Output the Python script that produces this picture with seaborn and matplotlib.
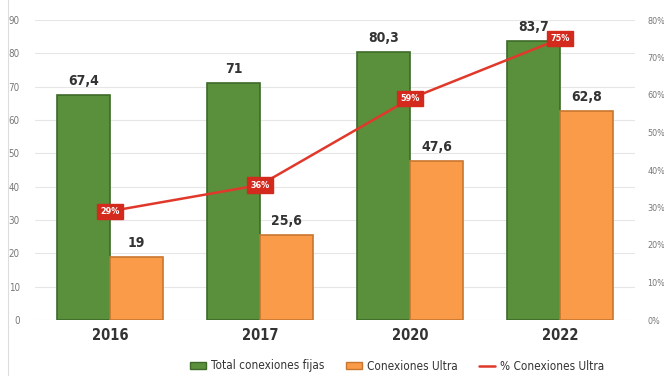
import matplotlib
matplotlib.use("Agg")
import matplotlib.pyplot as plt
import seaborn as sns
import pandas as pd
from matplotlib.patches import Patch
from matplotlib.lines import Line2D

years = ["2016", "2017", "2020", "2022"]
total_fijas = [67.4, 71, 80.3, 83.7]
conex_ultra = [19, 25.6, 47.6, 62.8]
pct_ultra = [29, 36, 59, 75]
total_labels = ["67,4", "71", "80,3", "83,7"]
ultra_labels = ["19", "25,6", "47,6", "62,8"]
series_names = ["Total conexiones fijas", "Conexiones Ultra", "% Conexiones Ultra"]

sns.set_theme(style="white")
plt.rcParams['font.family'] = ['DejaVu Sans']
plt.rcParams['font.stretch'] = 'condensed'

green = "#5a8f3c"
green_edge = "#3d6a28"
orange = "#f99b48"
orange_edge = "#c9762f"
red = "#e0392b"

df = pd.DataFrame({
    "year": years * 2,
    "value": total_fijas + conex_ultra,
    "serie": [series_names[0]] * 4 + [series_names[1]] * 4,
})

fig = plt.figure(figsize=(6.64, 3.76), dpi=100)
ax = fig.add_axes([35/664, 1-320/376, 600/664, 300/376])

sns.barplot(data=df, x="year", y="value", hue="serie",
            palette=[green, orange], width=0.71, ax=ax, legend=False,
            saturation=1)
for i, cont in enumerate(ax.containers):
    ec = green_edge if i == 0 else orange_edge
    for p in cont:
        p.set_edgecolor(ec)
        p.set_linewidth(1.2)
    labels = total_labels if i == 0 else ultra_labels
    ax.bar_label(cont, labels=labels, padding=5, fontsize=10, fontweight="bold",
                 color="#333333", fontstretch="condensed")

ax.set_ylim(0, 90)
ax.set_xlim(-0.5, 3.5)
ax.set_yticks(range(0, 91, 10))
ax.tick_params(axis="y", labelsize=7, colors="#777777", length=0, pad=11)
ax.tick_params(axis="x", labelsize=10.5, colors="#333333", length=0, pad=6)
for t in ax.get_xticklabels():
    t.set_fontweight("bold")
ax.set_xlabel("")
ax.set_ylabel("")
ax.yaxis.grid(True, color="#e6e6e6", linewidth=0.8)
ax.set_axisbelow(True)
for s in ax.spines.values():
    s.set_visible(False)

ax2 = ax.twinx()
sns.lineplot(x=list(range(len(years))), y=pct_ultra, ax=ax2, color=red, linewidth=1.8)
ax2.set_ylim(0, 80)
ax2.set_yticks(range(0, 81, 10))
ax2.set_yticklabels([f"{v}%" for v in range(0, 81, 10)])
ax2.tick_params(axis="y", labelsize=6.5, colors="#777777", length=0, pad=9)
for s in ax2.spines.values():
    s.set_visible(False)
for i, v in enumerate(pct_ultra):
    ax2.text(i, v, f"{v}%", ha="center", va="center", fontsize=6.5, fontweight="bold",
             color="white", bbox=dict(boxstyle="square,pad=0.35", fc="#d42a1e", ec="#d42a1e"))

handles = [Patch(facecolor=green, edgecolor=green_edge, label=series_names[0]),
           Patch(facecolor=orange, edgecolor=orange_edge, label=series_names[1]),
           Line2D([0], [0], color=red, linewidth=1.8, label=series_names[2])]
fig.legend(handles=handles, loc="center", bbox_to_anchor=(397/664, 1-366/376), ncol=3,
           frameon=False, fontsize=8.5, handlelength=1.4, handleheight=0.6,
           columnspacing=1.8, handletextpad=0.4, labelcolor="#333333")

fig.add_artist(Line2D([8/664, 8/664], [0, 1], color="#dddddd", linewidth=0.8))

fig.savefig("out.png", dpi=100)
